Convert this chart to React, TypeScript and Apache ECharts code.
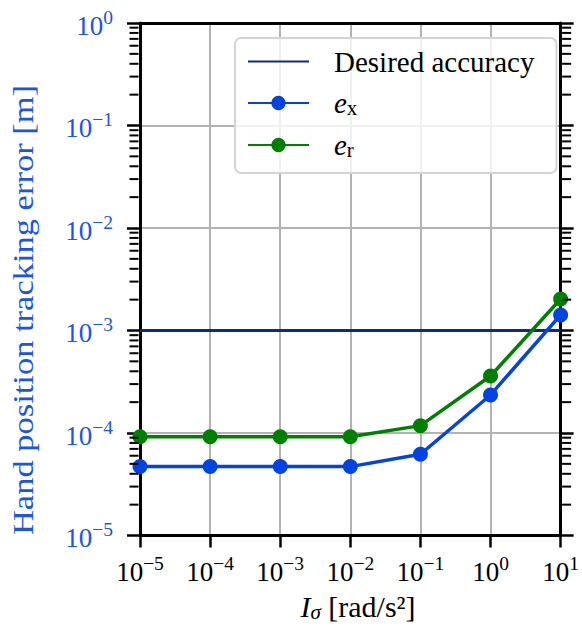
import React, { useEffect, useRef } from 'react';
import * as echarts from 'echarts';

// ---- data ----
const xValues = [1e-5, 1e-4, 1e-3, 1e-2, 1e-1, 1e0, 1e1];
const exValues = [4.7e-5, 4.7e-5, 4.7e-5, 4.7e-5, 6.2e-5, 2.35e-4, 1.42e-3];
const erValues = [9.2e-5, 9.2e-5, 9.2e-5, 9.2e-5, 1.18e-4, 3.6e-4, 2.03e-3];
const desiredAccuracy = 1e-3;
const xRange = [1e-5, 1e1];
const yRange = [1e-5, 1e0];
const seriesNames = ['Desired accuracy', 'e_x', 'e_r'];
const yTitle = 'Hand position tracking error [m]';
const minorDecades = [1e-5, 1e-4, 1e-3, 1e-2, 1e-1];
const minorFactors = [2, 3, 4, 5, 6, 7, 8, 9];

// ---- styles ----
const SERIF = '"Liberation Serif", "Times New Roman", serif';
const NAVY = '#0b2c86';
const BLUE = '#0343df';
const GREEN = '#008000';
const LABEL_BLUE = '#1b55e2';
const GRID_GRAY = '#b3b3b3';

const minorTickValues: number[] = [];
minorDecades.forEach((d) => minorFactors.forEach((k) => minorTickValues.push(k * d)));

const powLabel = (v: number) => {
  const e = Math.round(Math.log10(v));
  return `{b|10}{s|${e < 0 ? '\u2212' + -e : e}}`;
};

const tickRich = (color: string) => ({
  b: { fontFamily: SERIF, fontSize: 27, lineHeight: 32, verticalAlign: 'bottom', color },
  s: { fontFamily: SERIF, fontSize: 19.5, lineHeight: 20, verticalAlign: 'top', color },
});

export default function App() {
  const ref = useRef<HTMLDivElement>(null);
  useEffect(() => {
    if (!ref.current) return;
    const chart = echarts.init(ref.current, undefined, { renderer: 'svg' });
    const logAxisBase = { type: 'log', logBase: 10 } as any;
    const option: any = {
      animation: false,
      backgroundColor: '#ffffff',
      grid: { left: 140, top: 23, right: 17, bottom: 94.5, containLabel: false },
      xAxis: [
        {
          ...logAxisBase,
          min: xRange[0],
          max: xRange[1],
          splitNumber: 6,
          position: 'bottom',
          axisLine: { show: true, onZero: false, lineStyle: { color: '#000', width: 3 } },
          axisTick: { show: true, inside: false, length: 12, lineStyle: { color: '#000', width: 2.5 } },
          axisLabel: { show: true, margin: 18, formatter: powLabel, rich: tickRich('#000') },
          splitLine: { show: true, lineStyle: { color: GRID_GRAY, width: 2 } },
          minorTick: { show: false },
        },
        {
          ...logAxisBase,
          min: xRange[0],
          max: xRange[1],
          splitNumber: 6,
          position: 'top',
          axisLine: { show: true, onZero: false, lineStyle: { color: '#000', width: 3 } },
          axisTick: { show: false },
          axisLabel: { show: false },
          splitLine: { show: false },
        },
      ],
      yAxis: [
        {
          ...logAxisBase,
          min: yRange[0],
          max: yRange[1],
          splitNumber: 5,
          position: 'left',
          axisLine: { show: true, onZero: false, lineStyle: { color: '#000', width: 3 } },
          axisTick: { show: true, inside: false, length: 13, lineStyle: { color: '#000', width: 2.5 } },
          axisLabel: { show: true, margin: 27, formatter: powLabel, rich: tickRich(LABEL_BLUE) },
          splitLine: { show: true, lineStyle: { color: GRID_GRAY, width: 2 } },
        },
        {
          ...logAxisBase,
          min: yRange[0],
          max: yRange[1],
          splitNumber: 5,
          position: 'right',
          axisLine: { show: true, onZero: false, lineStyle: { color: '#000', width: 3 } },
          axisTick: { show: true, inside: false, length: 13, lineStyle: { color: '#000', width: 2.5 } },
          axisLabel: { show: false },
          splitLine: { show: false },
        },
      ],
      legend: {
        show: true,
        orient: 'vertical',
        left: 235,
        top: 38,
        padding: [9, 22, 13, 12],
        itemWidth: 61,
        itemHeight: 18,
        itemGap: 12.5,
        backgroundColor: 'rgba(255,255,255,0.8)',
        borderColor: '#d4d4d4',
        borderWidth: 2,
        borderRadius: 6,
        data: [
          { name: seriesNames[0], itemStyle: { opacity: 0 } },
          { name: seriesNames[1] },
          { name: seriesNames[2] },
        ],
        formatter: (name: string) => {
          if (name === 'e_x') return '{i|e}{sub|x}';
          if (name === 'e_r') return '{i|e}{sub|r}';
          return '{t|' + name + '}';
        },
        textStyle: {
          fontFamily: SERIF,
          fontSize: 29,
          color: '#000',
          padding: [0, 0, 0, 20],
          rich: {
            t: { fontFamily: SERIF, fontSize: 29, lineHeight: 30, color: '#000' },
            i: { fontFamily: SERIF, fontSize: 29, fontStyle: 'italic', lineHeight: 30, verticalAlign: 'middle', color: '#000' },
            sub: { fontFamily: SERIF, fontSize: 21, lineHeight: 16, verticalAlign: 'bottom', color: '#000' },
          },
        },
      },
      series: [
        {
          name: seriesNames[0],
          type: 'line',
          xAxisIndex: 0,
          yAxisIndex: 0,
          data: [
            [xRange[0], desiredAccuracy],
            [xRange[1], desiredAccuracy],
          ],
          symbol: 'none',
          lineStyle: { color: NAVY, width: 3.2 },
          itemStyle: { color: NAVY },
          z: 3,
        },
        {
          name: seriesNames[1],
          type: 'line',
          xAxisIndex: 0,
          yAxisIndex: 0,
          data: xValues.map((x, i) => [x, exValues[i]]),
          symbol: 'circle',
          symbolSize: 15,
          showSymbol: true,
          lineStyle: { color: BLUE, width: 3.5 },
          itemStyle: { color: BLUE },
          clip: false,
          z: 4,
        },
        {
          name: seriesNames[2],
          type: 'line',
          xAxisIndex: 0,
          yAxisIndex: 0,
          data: xValues.map((x, i) => [x, erValues[i]]),
          symbol: 'circle',
          symbolSize: 15,
          showSymbol: true,
          lineStyle: { color: GREEN, width: 3.5 },
          itemStyle: { color: GREEN },
          clip: false,
          z: 4,
        },
        // minor ticks of the log y axis: short line pieces along each spine
        ...[xRange[0], xRange[1]].map((edge, side) => ({
          type: 'line',
          name: side === 0 ? 'minor-left' : 'minor-right',
          xAxisIndex: 0,
          yAxisIndex: 0,
          data: minorTickValues.map((v) => [edge, v]),
          symbol: 'rect',
          symbolSize: [9, 2],
          symbolOffset: [side === 0 ? -6 : 6, 0],
          showSymbol: true,
          showAllSymbol: true,
          lineStyle: { width: 0, opacity: 0 },
          itemStyle: { color: '#000', opacity: 1 },
          clip: false,
          silent: true,
          z: 10,
        })),
      ],
      graphic: [
        {
          type: 'text',
          x: 23,
          y: 310,
          rotation: Math.PI / 2,
          scaleX: 1.15,
          style: {
            text: yTitle,
            fontFamily: SERIF,
            fontSize: 30,
            fill: LABEL_BLUE,
            align: 'center',
            verticalAlign: 'middle',
          },
        },
        {
          type: 'text',
          x: 358,
          y: 606,
          style: {
            text: '{i|I}{sub|\u03c3}{n| [rad/s\u00b2]}',
            align: 'center',
            verticalAlign: 'middle',
            fontFamily: SERIF,
            fontSize: 30,
            fill: '#000',
            rich: {
              i: { fontFamily: SERIF, fontSize: 30, fontStyle: 'italic', lineHeight: 32, verticalAlign: 'middle', fill: '#000' },
              sub: { fontFamily: SERIF, fontSize: 21, fontStyle: 'italic', lineHeight: 18, verticalAlign: 'bottom', fill: '#000' },
              n: { fontFamily: SERIF, fontSize: 30, lineHeight: 32, verticalAlign: 'middle', fill: '#000' },
            },
          },
        },
      ],
    };
    chart.setOption(option);
    return () => chart.dispose();
  }, []);
  return (
    <div
      ref={ref}
      style={{ position: 'absolute', left: 0, top: 0, width: 582, height: 630 }}
    />
  );
}
